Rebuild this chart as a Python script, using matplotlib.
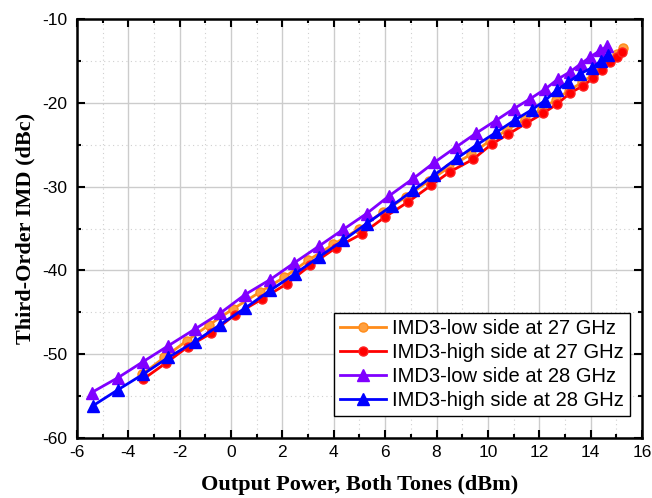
import matplotlib
matplotlib.use("Agg")
import matplotlib.pyplot as plt
from matplotlib.ticker import MultipleLocator

plt.rcParams["axes.unicode_minus"] = False

# Data
x_low27 = [-3.45, -2.60, -1.72, -0.85, 0.08, 1.12, 2.08, 3.00, 3.98, 5.00, 5.92, 6.82, 7.70,
           8.48, 9.35, 10.08, 10.75, 11.45, 12.10, 12.65, 13.15, 13.68, 14.08, 14.42, 14.75, 15.02, 15.25]
y_low27 = [-52.4, -50.4, -48.4, -46.5, -44.6, -42.6, -40.8, -38.8, -36.9, -35.0, -33.0, -31.2, -29.3,
           -27.7, -26.1, -24.5, -23.2, -21.9, -20.7, -19.6, -18.5, -17.5, -16.6, -15.8, -14.9, -14.1, -13.4]

x_high27 = [-3.42, -2.55, -1.67, -0.77, 0.15, 1.22, 2.17, 3.08, 4.08, 5.11, 6.00, 6.90, 7.80,
            8.53, 9.43, 10.15, 10.80, 11.50, 12.16, 12.70, 13.20, 13.72, 14.11, 14.43, 14.76, 15.02, 15.21]
y_high27 = [-53.0, -51.1, -49.1, -47.5, -45.3, -43.4, -41.6, -39.4, -37.3, -35.6, -33.6, -31.8, -29.8,
            -28.2, -26.7, -24.9, -23.7, -22.4, -21.2, -20.1, -18.8, -17.9, -17.0, -16.1, -15.1, -14.5, -13.9]

x_low28 = [-5.43, -4.39, -3.42, -2.44, -1.40, -0.42, 0.54, 1.52, 2.46, 3.42, 4.37, 5.28, 6.15, 7.10,
           7.91, 8.74, 9.54, 10.30, 11.02, 11.64, 12.24, 12.74, 13.18, 13.62, 13.98, 14.37, 14.65]
y_low28 = [-54.6, -52.8, -50.9, -49.0, -47.0, -45.1, -42.9, -41.1, -39.1, -37.1, -35.1, -33.2, -31.1, -29.0,
           -27.1, -25.3, -23.6, -22.1, -20.65, -19.5, -18.3, -17.1, -16.3, -15.3, -14.5, -13.7, -13.2]

x_high28 = [-5.39, -4.42, -3.42, -2.44, -1.40, -0.43, 0.55, 1.52, 2.49, 3.42, 4.37, 5.28, 6.25, 7.10,
            7.91, 8.79, 9.56, 10.32, 11.06, 11.71, 12.22, 12.70, 13.13, 13.59, 14.04, 14.39, 14.69]
y_high28 = [-56.2, -54.3, -52.4, -50.4, -48.5, -46.5, -44.5, -42.4, -40.4, -38.4, -36.4, -34.4, -32.3, -30.4,
            -28.6, -26.6, -25.0, -23.5, -22.0, -20.8, -19.7, -18.4, -17.5, -16.5, -15.8, -15.0, -14.2]

labels = ["IMD3-low side at 27 GHz", "IMD3-high side at 27 GHz",
          "IMD3-low side at 28 GHz", "IMD3-high side at 28 GHz"]

fig = plt.figure(figsize=(6.52, 4.98), dpi=100)
ax = fig.add_axes([0.118, 0.121, 0.8667, 0.840])

ax.plot(x_low27, y_low27, color="#FF8C1A", lw=2, marker="o", ms=6.5,
        mfc="#FFA040", mec="#FF8C1A", label=labels[0], zorder=3)
ax.plot(x_high27, y_high27, color="#FF0000", lw=2, marker="o", ms=6.5,
        mfc="#FF0000", mec="#FF2020", label=labels[1], zorder=3)
ax.plot(x_low28, y_low28, color="#8000FF", lw=2, marker="^", ms=8.5,
        mfc="#8000FF", mec="#8000FF", label=labels[2], zorder=4)
ax.plot(x_high28, y_high28, color="#0000FF", lw=2, marker="^", ms=8.5,
        mfc="#0000FF", mec="#0000FF", label=labels[3], zorder=4)

ax.set_xlim(-6, 16)
ax.set_ylim(-60, -10)
ax.xaxis.set_major_locator(MultipleLocator(2))
ax.xaxis.set_minor_locator(MultipleLocator(1))
ax.yaxis.set_major_locator(MultipleLocator(10))
ax.yaxis.set_minor_locator(MultipleLocator(5))

ax.grid(which="major", color="#cccccc", lw=1.0, ls="-", zorder=0)
ax.grid(which="minor", color="#d0d0d0", lw=0.8, ls=(0, (1, 3)), zorder=0)
ax.set_axisbelow(True)

ax.tick_params(which="both", direction="in", top=True, right=True,
               labelsize=12.5, width=1.5, colors="black")
ax.tick_params(which="major", length=6)
ax.tick_params(which="minor", length=3)
for lab in ax.get_xticklabels() + ax.get_yticklabels():
    lab.set_family("Liberation Sans")
for s in ax.spines.values():
    s.set_linewidth(1.8)
ax.xaxis.set_tick_params(pad=5)
ax.yaxis.set_tick_params(pad=7)

ax.set_xlabel("Output Power, Both Tones (dBm)", family="Liberation Serif",
              fontweight="bold", fontsize=16, labelpad=11)
ax.set_ylabel("Third-Order IMD (dBc)", family="Liberation Serif",
              fontweight="bold", fontsize=16, labelpad=5)

leg = ax.legend(loc="lower right", bbox_to_anchor=(0.979, 0.052), borderaxespad=0,
                prop={"family": "Liberation Sans", "size": 14.5}, fancybox=False,
                edgecolor="black", framealpha=1, handlelength=2.3, handletextpad=0.3,
                labelspacing=0.25, borderpad=0.3)
leg.get_frame().set_linewidth(1.0)

fig.savefig("out.png", dpi=100)
